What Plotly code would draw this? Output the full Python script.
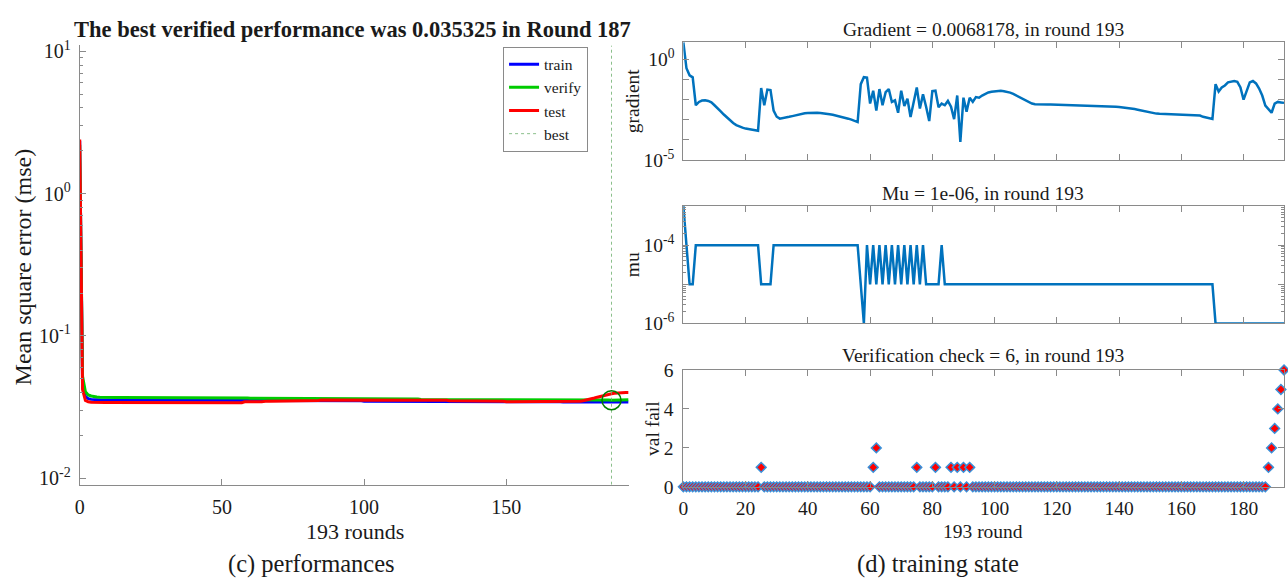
import plotly.graph_objects as go

# ---------------- data ----------------
rounds = list(range(194))

train_perf = [
    2.35, 0.046, 0.0375, 0.0362, 0.0358, 0.0356, 0.0355, 0.0355, 0.0354, 0.0354,
    0.0354, 0.0354, 0.0354, 0.0354, 0.0354, 0.0354, 0.0354, 0.0354, 0.0354, 0.0354,
    0.0354, 0.0354, 0.0354, 0.0353, 0.0353, 0.0353, 0.0353, 0.0353, 0.0353, 0.0353,
    0.0353, 0.0353, 0.0353, 0.0353, 0.0353, 0.0353, 0.0353, 0.0352, 0.0352, 0.0352,
    0.0352, 0.0352, 0.0352, 0.0352, 0.0352, 0.0352, 0.0352, 0.0352, 0.0352, 0.0352,
    0.0351, 0.0351, 0.0351, 0.0351, 0.0351, 0.0351, 0.0351, 0.0351, 0.0351, 0.0351,
    0.0351, 0.0351, 0.0351, 0.0351, 0.0351, 0.0351, 0.0351, 0.0351, 0.0351, 0.0351,
    0.0351, 0.0351, 0.0351, 0.0351, 0.0351, 0.0350, 0.0350, 0.0350, 0.0350, 0.0350,
    0.0350, 0.0350, 0.0350, 0.0350, 0.0350, 0.0350, 0.0350, 0.0350, 0.0350, 0.0350,
    0.0350, 0.0350, 0.0350, 0.0350, 0.0350, 0.0350, 0.0350, 0.0350, 0.0350, 0.0350,
    0.0348, 0.0348, 0.0348, 0.0348, 0.0348, 0.0348, 0.0348, 0.0348, 0.0348, 0.0348,
    0.0348, 0.0348, 0.0348, 0.0348, 0.0348, 0.0348, 0.0348, 0.0348, 0.0348, 0.0348,
    0.0348, 0.0348, 0.0348, 0.0348, 0.0348, 0.0346, 0.0346, 0.0346, 0.0346, 0.0346,
    0.0346, 0.0346, 0.0346, 0.0346, 0.0346, 0.0346, 0.0346, 0.0346, 0.0346, 0.0346,
    0.0346, 0.0346, 0.0346, 0.0346, 0.0346, 0.0346, 0.0346, 0.0346, 0.0346, 0.0346,
    0.0344, 0.0344, 0.0344, 0.0344, 0.0344, 0.0344, 0.0344, 0.0344, 0.0344, 0.0344,
    0.0344, 0.0344, 0.0344, 0.0344, 0.0344, 0.0344, 0.0344, 0.0344, 0.0344, 0.0344,
    0.0343, 0.0343, 0.0343, 0.0343, 0.0343, 0.0343, 0.0343, 0.0343, 0.0343, 0.0343,
    0.0343, 0.0343, 0.0343, 0.0343, 0.0343, 0.0343, 0.0343, 0.0343, 0.0343, 0.0343,
    0.0343, 0.0343, 0.0343, 0.0343,
]

verify_perf = [
    2.20, 0.052, 0.0405, 0.0385, 0.0378, 0.0374, 0.0372, 0.0371, 0.0370, 0.0370,
    0.0369, 0.0369, 0.0369, 0.0369, 0.0369, 0.0369, 0.0369, 0.0369, 0.0369, 0.0369,
    0.0368, 0.0368, 0.0368, 0.0368, 0.0368, 0.0368, 0.0368, 0.0368, 0.0368, 0.0368,
    0.0367, 0.0367, 0.0367, 0.0367, 0.0367, 0.0367, 0.0367, 0.0367, 0.0367, 0.0367,
    0.0367, 0.0367, 0.0367, 0.0367, 0.0367, 0.0366, 0.0366, 0.0366, 0.0366, 0.0366,
    0.0366, 0.0366, 0.0366, 0.0366, 0.0366, 0.0366, 0.0366, 0.0366, 0.0366, 0.0366,
    0.0364, 0.0364, 0.0364, 0.0364, 0.0364, 0.0364, 0.0364, 0.0364, 0.0364, 0.0364,
    0.0364, 0.0364, 0.0364, 0.0364, 0.0364, 0.0364, 0.0364, 0.0364, 0.0364, 0.0364,
    0.0362, 0.0362, 0.0362, 0.0362, 0.0362, 0.0362, 0.0362, 0.0362, 0.0362, 0.0362,
    0.0362, 0.0362, 0.0362, 0.0362, 0.0362, 0.0362, 0.0362, 0.0362, 0.0362, 0.0362,
    0.0360, 0.0360, 0.0360, 0.0360, 0.0360, 0.0360, 0.0360, 0.0360, 0.0360, 0.0360,
    0.0360, 0.0360, 0.0360, 0.0360, 0.0360, 0.0360, 0.0360, 0.0360, 0.0360, 0.0360,
    0.0358, 0.0358, 0.0358, 0.0358, 0.0358, 0.0358, 0.0358, 0.0358, 0.0358, 0.0358,
    0.0358, 0.0358, 0.0358, 0.0358, 0.0358, 0.0358, 0.0358, 0.0358, 0.0358, 0.0358,
    0.0357, 0.0357, 0.0357, 0.0357, 0.0357, 0.0357, 0.0357, 0.0357, 0.0357, 0.0357,
    0.0357, 0.0357, 0.0357, 0.0357, 0.0357, 0.0357, 0.0357, 0.0357, 0.0357, 0.0357,
    0.0355, 0.0355, 0.0355, 0.0355, 0.0355, 0.0355, 0.0355, 0.0355, 0.0355, 0.0355,
    0.0355, 0.0355, 0.0355, 0.0355, 0.0355, 0.0355, 0.0355, 0.0355, 0.0355, 0.0355,
    0.0354, 0.0354, 0.0354, 0.0354, 0.0354, 0.0354, 0.0354, 0.035325, 0.03535, 0.0354,
    0.03545, 0.0355, 0.03555, 0.0356,
]

test_perf = [
    2.40, 0.042, 0.0352, 0.0344, 0.0342, 0.0341, 0.0341, 0.0341, 0.0341, 0.0341,
    0.0341, 0.0341, 0.0341, 0.0341, 0.0341, 0.0341, 0.0341, 0.0341, 0.0341, 0.0341,
    0.0341, 0.0341, 0.0341, 0.0341, 0.0341, 0.0339, 0.0339, 0.0339, 0.0339, 0.0339,
    0.0339, 0.0339, 0.0339, 0.0339, 0.0339, 0.0339, 0.0339, 0.0339, 0.0339, 0.0339,
    0.0339, 0.0339, 0.0339, 0.0339, 0.0339, 0.0339, 0.0339, 0.0339, 0.0339, 0.0339,
    0.0339, 0.0339, 0.0339, 0.0339, 0.0339, 0.0339, 0.0339, 0.0339, 0.0344, 0.0345,
    0.0345, 0.0345, 0.0345, 0.0345, 0.0345, 0.0348, 0.0348, 0.0348, 0.0348, 0.0348,
    0.0348, 0.0348, 0.0348, 0.0348, 0.0348, 0.0351, 0.0351, 0.0351, 0.0351, 0.0351,
    0.0351, 0.0351, 0.0351, 0.0351, 0.0351, 0.0354, 0.0354, 0.0354, 0.0354, 0.0354,
    0.0354, 0.0354, 0.0354, 0.0354, 0.0354, 0.0356, 0.0356, 0.0356, 0.0356, 0.0356,
    0.0356, 0.0356, 0.0356, 0.0356, 0.0356, 0.0356, 0.0356, 0.0356, 0.0356, 0.0356,
    0.0355, 0.0355, 0.0355, 0.0355, 0.0355, 0.0355, 0.0355, 0.0355, 0.0355, 0.0355,
    0.0353, 0.0353, 0.0353, 0.0353, 0.0353, 0.0353, 0.0353, 0.0353, 0.0353, 0.0353,
    0.0350, 0.0350, 0.0350, 0.0350, 0.0350, 0.0350, 0.0350, 0.0350, 0.0350, 0.0350,
    0.0347, 0.0347, 0.0347, 0.0347, 0.0347, 0.0347, 0.0347, 0.0347, 0.0347, 0.0347,
    0.0345, 0.0345, 0.0345, 0.0345, 0.0345, 0.0345, 0.0345, 0.0345, 0.0345, 0.0345,
    0.0345, 0.0345, 0.0345, 0.0345, 0.0345, 0.0345, 0.0345, 0.0345, 0.0345, 0.0345,
    0.0345, 0.0345, 0.0345, 0.0345, 0.0345, 0.0346, 0.0348, 0.0350, 0.0353, 0.0357,
    0.0361, 0.0366, 0.0371, 0.0376, 0.0381, 0.0385, 0.0389, 0.0392, 0.0395, 0.0397,
    0.0398, 0.0399, 0.0400, 0.0400,
]

best_round = 187
best_perf = 0.035325

gradient = [
    6.8, 0.355, 0.158, 0.126, 5.2e-3, 7.6e-3, 8.9e-3, 9.1e-3, 8.5e-3, 7.2e-3,
    5.2e-3, 3.8e-3, 2.6e-3, 1.8e-3, 1.26e-3, 8.9e-4, 6.8e-4, 5.4e-4, 4.5e-4, 4.0e-4,
    3.6e-4, 3.4e-4, 3.2e-4, 3.0e-4, 2.8e-4, 3.7e-2, 5.2e-3, 3.1e-2, 2.95e-2, 2.8e-3,
    1.4e-3, 1.12e-3, 1.17e-3, 1.26e-3, 1.38e-3, 1.5e-3, 1.66e-3, 1.8e-3, 1.95e-3, 2.1e-3,
    2.15e-3, 2.2e-3, 2.2e-3, 2.2e-3, 2.15e-3, 2.1e-3, 2.0e-3, 1.86e-3, 1.74e-3, 1.62e-3,
    1.5e-3, 1.38e-3, 1.26e-3, 1.12e-3, 1.0e-3, 8.9e-4, 7.6e-4, 5.8e-2, 0.129, 0.123,
    6.3e-3, 2.75e-2, 2.8e-3, 3.3e-2, 5.2e-3, 2.3e-2, 3.3e-2, 7.6e-3, 9.1e-3, 2.2e-3,
    2.75e-2, 4.7e-3, 1.1e-2, 1.35e-3, 7.6e-3, 4.0e-2, 3.6e-3, 1.8e-2, 4.4e-3, 8.5e-4,
    2.6e-2, 2.75e-2, 4.1e-3, 6.3e-3, 5.2e-3, 8.5e-3, 4.4e-3, 1.07e-3, 1.58e-2, 7.8e-5,
    1.23e-2, 2.5e-3, 1.23e-2, 7.6e-3, 1.32e-2, 1.23e-2, 1.58e-2, 1.9e-2, 2.24e-2, 2.45e-2,
    2.6e-2, 2.75e-2, 2.75e-2, 2.6e-2, 2.45e-2, 2.2e-2, 1.9e-2, 1.58e-2, 1.32e-2, 1.07e-2,
    8.7e-3, 7.2e-3, 6.3e-3, 5.9e-3, 5.75e-3, 5.75e-3, 5.7e-3, 5.7e-3, 5.65e-3, 5.6e-3,
    5.6e-3, 5.55e-3, 5.5e-3, 5.5e-3, 5.45e-3, 5.4e-3, 5.3e-3, 5.25e-3, 5.2e-3, 5.15e-3,
    5.1e-3, 5.0e-3, 4.95e-3, 4.9e-3, 4.8e-3, 4.75e-3, 4.65e-3, 4.6e-3, 4.5e-3, 4.4e-3,
    4.3e-3, 4.15e-3, 4.0e-3, 3.8e-3, 3.6e-3, 3.35e-3, 3.1e-3, 2.85e-3, 2.6e-3, 2.4e-3,
    2.25e-3, 2.1e-3, 2.0e-3, 1.95e-3, 1.92e-3, 1.9e-3, 1.88e-3, 1.86e-3, 1.85e-3, 1.84e-3,
    1.82e-3, 1.8e-3, 1.78e-3, 1.74e-3, 1.7e-3, 1.66e-3, 1.6e-3, 1.38e-3, 1.29e-3, 1.17e-3,
    1.07e-3, 5.8e-2, 2.5e-2, 4.0e-2, 5.0e-2, 7.1e-2, 7.9e-2, 8.3e-2, 7.6e-2, 4.0e-2,
    9.8e-3, 2.5e-2, 7.1e-2, 8.3e-2, 6.3e-2, 3.5e-2, 1.58e-2, 5.0e-3, 3.2e-3, 2.2e-3,
    6.3e-3, 7.6e-3, 7.2e-3, 6.8178e-3,
]

mu = [
    1e-3, 1e-4, 1e-5, 1e-5, 1e-4, 1e-4, 1e-4, 1e-4, 1e-4, 1e-4,
    1e-4, 1e-4, 1e-4, 1e-4, 1e-4, 1e-4, 1e-4, 1e-4, 1e-4, 1e-4,
    1e-4, 1e-4, 1e-4, 1e-4, 1e-4, 1e-5, 1e-5, 1e-5, 1e-5, 1e-4,
    1e-4, 1e-4, 1e-4, 1e-4, 1e-4, 1e-4, 1e-4, 1e-4, 1e-4, 1e-4,
    1e-4, 1e-4, 1e-4, 1e-4, 1e-4, 1e-4, 1e-4, 1e-4, 1e-4, 1e-4,
    1e-4, 1e-4, 1e-4, 1e-4, 1e-4, 1e-4, 1e-4, 1e-5, 1e-6, 1e-4,
    1e-5, 1e-4, 1e-5, 1e-4, 1e-5, 1e-4, 1e-5, 1e-4, 1e-5, 1e-4,
    1e-5, 1e-4, 1e-5, 1e-4, 1e-5, 1e-4, 1e-5, 1e-4, 1e-5, 1e-5,
    1e-5, 1e-5, 1e-5, 1e-4, 1e-5, 1e-5, 1e-5, 1e-5, 1e-5, 1e-5,
    1e-5, 1e-5, 1e-5, 1e-5, 1e-5, 1e-5, 1e-5, 1e-5, 1e-5, 1e-5,
    1e-5, 1e-5, 1e-5, 1e-5, 1e-5, 1e-5, 1e-5, 1e-5, 1e-5, 1e-5,
    1e-5, 1e-5, 1e-5, 1e-5, 1e-5, 1e-5, 1e-5, 1e-5, 1e-5, 1e-5,
    1e-5, 1e-5, 1e-5, 1e-5, 1e-5, 1e-5, 1e-5, 1e-5, 1e-5, 1e-5,
    1e-5, 1e-5, 1e-5, 1e-5, 1e-5, 1e-5, 1e-5, 1e-5, 1e-5, 1e-5,
    1e-5, 1e-5, 1e-5, 1e-5, 1e-5, 1e-5, 1e-5, 1e-5, 1e-5, 1e-5,
    1e-5, 1e-5, 1e-5, 1e-5, 1e-5, 1e-5, 1e-5, 1e-5, 1e-5, 1e-5,
    1e-5, 1e-5, 1e-5, 1e-5, 1e-5, 1e-5, 1e-5, 1e-5, 1e-5, 1e-5,
    1e-5, 1e-6, 1e-6, 1e-6, 1e-6, 1e-6, 1e-6, 1e-6, 1e-6, 1e-6,
    1e-6, 1e-6, 1e-6, 1e-6, 1e-6, 1e-6, 1e-6, 1e-6, 1e-6, 1e-6,
    1e-6, 1e-6, 1e-6, 1e-6,
]

val_fail = [
    0, 0, 0, 0, 0, 0, 0, 0, 0, 0,
    0, 0, 0, 0, 0, 0, 0, 0, 0, 0,
    0, 0, 0, 0, 0, 1, 0, 0, 0, 0,
    0, 0, 0, 0, 0, 0, 0, 0, 0, 0,
    0, 0, 0, 0, 0, 0, 0, 0, 0, 0,
    0, 0, 0, 0, 0, 0, 0, 0, 0, 0,
    0, 1, 2, 0, 0, 0, 0, 0, 0, 0,
    0, 0, 0, 0, 0, 1, 0, 0, 0, 0,
    0, 1, 0, 0, 0, 0, 1, 0, 1, 0,
    1, 0, 1, 0, 0, 0, 0, 0, 0, 0,
    0, 0, 0, 0, 0, 0, 0, 0, 0, 0,
    0, 0, 0, 0, 0, 0, 0, 0, 0, 0,
    0, 0, 0, 0, 0, 0, 0, 0, 0, 0,
    0, 0, 0, 0, 0, 0, 0, 0, 0, 0,
    0, 0, 0, 0, 0, 0, 0, 0, 0, 0,
    0, 0, 0, 0, 0, 0, 0, 0, 0, 0,
    0, 0, 0, 0, 0, 0, 0, 0, 0, 0,
    0, 0, 0, 0, 0, 0, 0, 0, 0, 0,
    0, 0, 0, 0, 0, 0, 0, 0, 1, 2,
    3, 4, 5, 6,
]

# tick labels
perf_tickvals = [1e-2, 1e-1, 1e0, 1e1]
perf_ticktext = ["10<sup>-2</sup>", "10<sup>-1</sup>", "10<sup>0</sup>", "10<sup>1</sup>"]
grad_tickvals = [1e-5, 1e-4, 1e-3, 1e-2, 1e-1, 1e0]
grad_ticktext = ["10<sup>-5</sup>", "", "", "", "", "10<sup>0</sup>"]
mu_tickvals = [1e-6, 1e-5, 1e-4, 1e-3]
mu_ticktext = ["10<sup>-6</sup>", "", "10<sup>-4</sup>", ""]

# ---------------- styling ----------------
FONT = "Liberation Serif"
AXC = "#8a8a8a"
TXT = "#1a1a1a"
W, H = 1288, 588


def px_x(p):
    return p / W


def px_y(p):
    return 1 - p / H


def minor_log(lo_exp, hi_exp):
    vals = []
    for e in range(lo_exp, hi_exp):
        for m in range(2, 10):
            vals.append(m * 10.0 ** e)
    return vals


fig = go.Figure()

# left: performance
fig.add_trace(go.Scatter(x=rounds, y=train_perf, mode="lines", name="train",
                         line=dict(color="#0000FF", width=3), xaxis="x", yaxis="y"))
fig.add_trace(go.Scatter(x=rounds, y=verify_perf, mode="lines", name="verify",
                         line=dict(color="#00CC00", width=3), xaxis="x", yaxis="y"))
fig.add_trace(go.Scatter(x=rounds, y=test_perf, mode="lines", name="test",
                         line=dict(color="#FF0000", width=3), xaxis="x", yaxis="y"))
fig.add_trace(go.Scatter(x=[best_round, best_round], y=[0.009, 11], mode="lines", name="best",
                         line=dict(color="rgba(110,175,110,0.8)", width=1, dash="dot"),
                         xaxis="x", yaxis="y"))
fig.add_trace(go.Scatter(x=[best_round], y=[best_perf], mode="markers", showlegend=False,
                         marker=dict(symbol="circle-open", size=19, color="#008000",
                                     line=dict(width=1.6, color="#008000")),
                         xaxis="x", yaxis="y", cliponaxis=False))

# right: gradient / mu / val fail
fig.add_trace(go.Scatter(x=rounds, y=gradient, mode="lines", showlegend=False,
                         line=dict(color="#0072BD", width=2.5), xaxis="x2", yaxis="y2"))
fig.add_trace(go.Scatter(x=rounds, y=mu, mode="lines", showlegend=False,
                         line=dict(color="#0072BD", width=2.5), xaxis="x3", yaxis="y3"))
fig.add_trace(go.Scatter(x=rounds, y=val_fail, mode="markers", showlegend=False, cliponaxis=False,
                         marker=dict(symbol="diamond", size=7.5, color="#FF0000",
                                     line=dict(color="#3A8FD8", width=1.5)),
                         xaxis="x4", yaxis="y4"))

tickfont_l = dict(family=FONT, size=20, color=TXT)
tickfont_r = dict(family=FONT, size=19.5, color=TXT)

common_axis = dict(showgrid=False, zeroline=False, showline=True, linecolor=AXC, linewidth=1,
                   ticks="inside", tickcolor=AXC, ticklen=6, tickwidth=1)

right_x_dom = [px_x(681), px_x(1284)]

fig.update_layout(
    width=W, height=H,
    margin=dict(l=0, r=0, t=0, b=0),
    paper_bgcolor="white", plot_bgcolor="white",
    font=dict(family=FONT, color=TXT),
    showlegend=True,
    legend=dict(x=px_x(500), y=px_y(38), xanchor="left", yanchor="top",
                bgcolor="white", bordercolor="#8a8a8a", borderwidth=1,
                font=dict(family=FONT, size=15.5, color=TXT),
                itemwidth=30, tracegroupgap=0),
    xaxis=dict(domain=[px_x(75), px_x(626)], range=[0, 193], anchor="y",
               tickvals=[0, 50, 100, 150], tickfont=tickfont_l, ticklabelstandoff=4,
               **common_axis),
    yaxis=dict(domain=[px_y(492.3), px_y(36.7)], type="log", range=[-2.0458, 1.0414], anchor="x",
               tickvals=perf_tickvals, ticktext=perf_ticktext, tickfont=tickfont_l,
               ticklabelstandoff=4,
               minor=dict(tickvals=minor_log(-2, 1), ticks="inside", ticklen=3,
                          tickcolor=AXC, showgrid=False),
               **common_axis),
    xaxis2=dict(domain=right_x_dom, range=[0, 193], anchor="y2",
                tickvals=list(range(0, 200, 20)), showticklabels=False, mirror="allticks",
                **common_axis),
    yaxis2=dict(domain=[px_y(155.5), px_y(33.3)], type="log", range=[-5, 0.85], anchor="x2",
                tickvals=grad_tickvals, ticktext=grad_ticktext, tickfont=tickfont_r,
                ticklabelstandoff=4, mirror="allticks", **common_axis),
    xaxis3=dict(domain=right_x_dom, range=[0, 193], anchor="y3",
                tickvals=list(range(0, 200, 20)), showticklabels=False, mirror="allticks",
                **common_axis),
    yaxis3=dict(domain=[px_y(325), px_y(203.3)], type="log", range=[-6, -3], anchor="x3",
                tickvals=mu_tickvals, ticktext=mu_ticktext, tickfont=tickfont_r,
                ticklabelstandoff=4, mirror="allticks",
                minor=dict(tickvals=minor_log(-6, -3), ticks="inside", ticklen=3,
                           tickcolor=AXC, showgrid=False),
                **common_axis),
    xaxis4=dict(domain=right_x_dom, range=[0, 193], anchor="y4",
                tickvals=list(range(0, 200, 20)), tickfont=tickfont_r, mirror="allticks",
                ticklabelstandoff=4, **common_axis),
    yaxis4=dict(domain=[px_y(494.5), px_y(373.3)], range=[0, 6], anchor="x4",
                tickvals=[0, 2, 4, 6], tickfont=tickfont_r, mirror="allticks",
                ticklabelstandoff=5, **common_axis),
)

ann = []


def add_text(text, xp, yp, size, angle=0, bold=False):
    ann.append(dict(text=("<b>%s</b>" % text) if bold else text,
                    x=px_x(xp), y=px_y(yp), xref="paper", yref="paper",
                    xanchor="center", yanchor="middle", showarrow=False, textangle=angle,
                    font=dict(family=FONT, size=size, color=TXT)))


add_text("The best verified performance was 0.035325 in Round 187", 349, 20, 22.5, bold=True)
add_text("Mean square error (mse)", 19, 266, 24, angle=-90)
add_text("193 rounds", 351, 541, 22)
add_text("(c) performances", 308, 574, 24.5)

add_text("Gradient = 0.0068178, in round 193", 982, 20, 19.5)
add_text("Mu = 1e-06, in round 193", 982, 190, 19.5)
add_text("Verification check = 6, in round 193", 982, 358, 19.5)
add_text("gradient", 630, 95, 19.5, angle=-90)
add_text("mu", 630, 264, 19.5, angle=-90)
add_text("val fail", 650, 434, 19.5, angle=-90)
add_text("193 round", 982, 541, 19.5)
add_text("(d) training state", 937, 574, 24.5)

fig.update_layout(annotations=ann)

fig.write_html("out.html")
